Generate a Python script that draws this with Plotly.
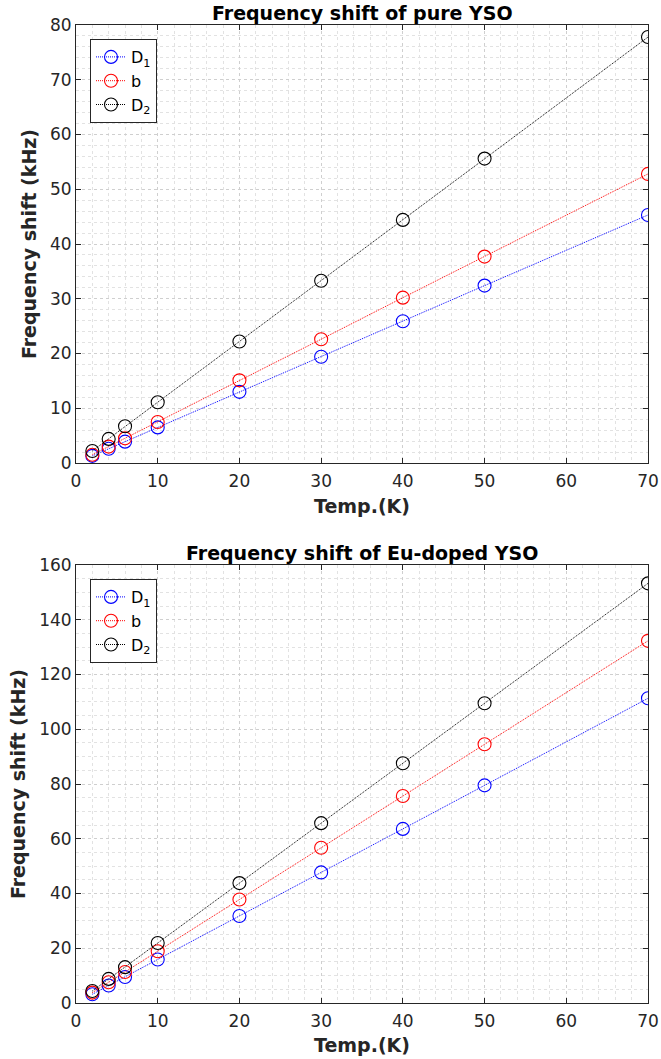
import plotly.graph_objects as go

temps = [2, 4, 6, 10, 20, 30, 40, 50, 70]

pure_D1 = [1.3, 2.6, 3.9, 6.5, 13.0, 19.4, 25.9, 32.4, 45.3]
pure_b = [1.5, 3.0, 4.5, 7.5, 15.1, 22.6, 30.2, 37.7, 52.8]
pure_D2 = [2.2, 4.4, 6.7, 11.1, 22.2, 33.3, 44.4, 55.6, 77.8]

eu_D1 = [3.2, 6.4, 9.5, 15.9, 31.8, 47.7, 63.6, 79.5, 111.3]
eu_b = [3.8, 7.6, 11.3, 18.9, 37.8, 56.7, 75.6, 94.5, 132.3]
eu_D2 = [4.4, 8.8, 13.1, 21.9, 43.8, 65.7, 87.6, 109.5, 153.3]

names = ["D<sub>1</sub>", "b", "D<sub>2</sub>"]
colors = ["#0000ff", "#ff0000", "#000000"]

W, H = 661, 1059
FONT = "DejaVu Sans"
AX = "#262626"

fig = go.Figure()

def add_series(ys, xa, ya, legend):
    for y, n, c in zip(ys, names, colors):
        fig.add_trace(go.Scatter(
            x=temps, y=y, name=n, mode="lines+markers",
            line=dict(color=c, width=1, dash="1px,1px"),
            marker=dict(symbol="circle-open", size=13, color=c, line=dict(width=1.1, color=c)),
            xaxis=xa, yaxis=ya, legend=legend,
        ))

add_series([pure_D1, pure_b, pure_D2], "x", "y", "legend")
add_series([eu_D1, eu_b, eu_D2], "x2", "y2", "legend2")

xd = [76 / W, 648 / W]
top_dom = [1 - 463 / H, 1 - 25 / H]
bot_dom = [1 - 1003 / H, 1 - 565 / H]

axis_common = dict(
    showline=True, linecolor=AX, linewidth=1, mirror="ticks",
    ticks="inside", ticklen=5, tickcolor=AX,
    showgrid=True, gridcolor="#cfcfcf", gridwidth=1, griddash="dot",
    zeroline=False, automargin=False,
    tickfont=dict(family=FONT, size=17, color=AX),
)
minor_common = dict(showgrid=True, gridcolor="#e2e2e2", griddash="dot", gridwidth=1, ticks="")

def xaxis(anchor):
    return dict(
        axis_common, domain=xd, anchor=anchor, range=[0, 70],
        tickmode="array", tickvals=list(range(0, 71, 10)),
        minor=dict(minor_common, dtick=2),
        ticklabelstandoff=3,
    )

def yaxis(anchor, dom, top, step, mdt):
    return dict(
        axis_common, domain=dom, anchor=anchor, range=[0, top],
        tickmode="array", tickvals=list(range(0, top + 1, step)),
        minor=dict(minor_common, dtick=mdt),
        title=dict(text="<b>Frequency shift (kHz)</b>", font=dict(family=FONT, size=19, color=AX), standoff=8),
    )

legend_common = dict(
    xanchor="left", yanchor="top",
    bgcolor="white", bordercolor=AX, borderwidth=1,
    font=dict(family=FONT, size=16, color="black"),
    tracegroupgap=0, itemwidth=30, entrywidth=80,
)

def ann(text, y, size, color="black"):
    return dict(text=text, x=362 / W, y=1 - y / H, xref="paper", yref="paper",
                showarrow=False, xanchor="center", yanchor="middle",
                font=dict(family=FONT, size=size, color=color))

fig.update_layout(
    width=W, height=H,
    margin=dict(l=0, r=0, t=0, b=0, autoexpand=False),
    paper_bgcolor="white", plot_bgcolor="white",
    showlegend=True,
    xaxis=xaxis("y"),
    xaxis2=xaxis("y2"),
    yaxis=yaxis("x", top_dom, 80, 10, 2),
    yaxis2=yaxis("x2", bot_dom, 160, 20, 5),
    legend=dict(legend_common, x=90 / W, y=1 - 39 / H),
    legend2=dict(legend_common, x=90 / W, y=1 - 579 / H),
    annotations=[
        ann("<b>Frequency shift of pure YSO</b>", 13, 19),
        ann("<b>Frequency shift of Eu-doped YSO</b>", 553, 19),
        ann("<b>Temp.(K)</b>", 506, 19, AX),
        ann("<b>Temp.(K)</b>", 1045, 19, AX),
    ],
)

fig.write_html("out.html")
